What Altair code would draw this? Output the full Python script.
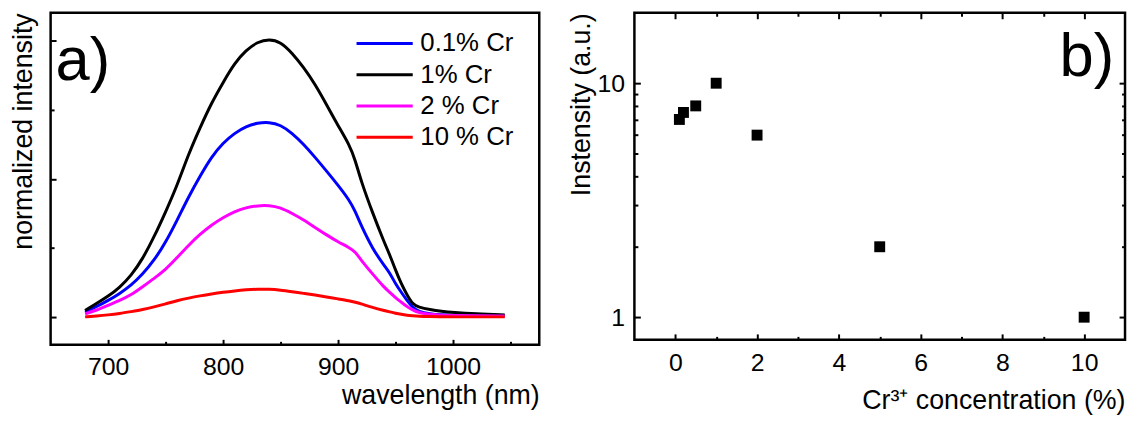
import altair as alt
import pandas as pd

# ---------------- data ----------------
wavelength = [680, 690, 700, 710, 720, 730, 740, 750, 760, 770, 780, 790, 800, 810, 820,
              830, 840, 850, 860, 870, 880, 890, 900, 910, 915, 920, 930, 940, 945, 950,
              955, 960, 965, 970, 980, 990, 1000, 1020, 1045]
cr_01 = [0.018, 0.038, 0.060, 0.085, 0.115, 0.155, 0.205, 0.270, 0.350, 0.435, 0.510, 0.580,
         0.630, 0.665, 0.690, 0.702, 0.705, 0.695, 0.665, 0.625, 0.578, 0.528, 0.477, 0.422,
         0.382, 0.332, 0.247, 0.187, 0.160, 0.120, 0.090, 0.060, 0.035, 0.020, 0.012, 0.008,
         0.006, 0.005, 0.004]
cr_1 = [0.024, 0.050, 0.075, 0.107, 0.150, 0.210, 0.290, 0.380, 0.475, 0.590, 0.685, 0.775,
        0.848, 0.918, 0.965, 0.995, 1.005, 0.995, 0.955, 0.903, 0.842, 0.768, 0.692, 0.622,
        0.567, 0.492, 0.377, 0.272, 0.225, 0.170, 0.120, 0.080, 0.046, 0.036, 0.027, 0.021,
        0.017, 0.012, 0.008]
cr_2 = [0.012, 0.025, 0.043, 0.060, 0.080, 0.110, 0.140, 0.172, 0.215, 0.260, 0.300, 0.333,
        0.360, 0.382, 0.396, 0.403, 0.404, 0.396, 0.375, 0.352, 0.324, 0.297, 0.272, 0.251,
        0.236, 0.206, 0.156, 0.108, 0.090, 0.070, 0.054, 0.038, 0.026, 0.016, 0.010, 0.007,
        0.006, 0.005, 0.004]
cr_10 = [0.001, 0.004, 0.008, 0.013, 0.020, 0.027, 0.037, 0.048, 0.060, 0.069, 0.077, 0.084,
         0.090, 0.095, 0.099, 0.101, 0.101, 0.098, 0.092, 0.086, 0.080, 0.073, 0.066, 0.059,
         0.054, 0.048, 0.035, 0.024, 0.019, 0.014, 0.010, 0.007, 0.005, 0.003, 0.002, 0.001,
         0.001, 0.001, 0.001]
series_names = ["0.1% Cr", "1% Cr", "2 % Cr", "10 % Cr"]
series_colors = ["#0000ff", "#000000", "#ff00ff", "#ff0000"]

concentration = [0.1, 0.2, 0.5, 1, 2, 5, 10]
intensity = [7.0, 7.5, 8.0, 10.0, 6.0, 2.0, 1.0]

x_ticks_a = [700, 800, 900, 1000]
x_minor_a = [750, 850, 950, 1050]
y_ticks_a = [0, 0.5, 1.0]
y_minor_a = [0.25, 0.75]
x_ticks_b = [0, 2, 4, 6, 8, 10]
x_minor_b = [1, 3, 5, 7, 9]
y_ticks_b = [1, 10]
y_minor_b = [2, 3, 4, 5, 6, 7, 8, 9]

# ---------------- tables ----------------
rows = []
for name, vals in zip(series_names, [cr_01, cr_1, cr_2, cr_10]):
    for w, v in zip(wavelength, vals):
        rows.append({"wavelength": w, "value": v, "series": name})
spec_df = pd.DataFrame(rows)
pts_df = pd.DataFrame({"conc": concentration, "inten": intensity})

FONT = "Liberation Sans"

xs_a = alt.Scale(domain=[650, 1075], nice=False, zero=False)
ys_a = alt.Scale(domain=[-0.1, 1.1], nice=False, zero=False)
xs_b = alt.Scale(domain=[-1, 11], nice=False, zero=False)
ys_b = alt.Scale(type="log", domain=[0.8, 20], nice=False)


def tick_axis(values, size, orient):
    return alt.Axis(values=values, orient=orient, labels=False, domain=False, grid=False,
                    ticks=True, tickSize=size, tickWidth=2, tickColor="black",
                    offset=-size, title=None)


def tick_layer(df, xf, yf, xs, ys, xaxis, yaxis):
    return alt.Chart(df).mark_point(opacity=0).encode(
        x=alt.X(xf, scale=xs, axis=xaxis),
        y=alt.Y(yf, scale=ys, axis=yaxis),
    )


# ---------------- panel a ----------------
lines = alt.Chart(spec_df).mark_line(strokeWidth=3, interpolate="basis").encode(
    x=alt.X("wavelength:Q", scale=xs_a,
            axis=alt.Axis(values=x_ticks_a, orient="bottom", format="d", ticks=False,
                          tickSize=0, domain=False, grid=False, labelPadding=10,
                          titlePadding=3, title="wavelength (nm)", titleAnchor="end")),
    y=alt.Y("value:Q", scale=ys_a,
            axis=alt.Axis(orient="left", labels=False, ticks=False, tickSize=0, domain=False,
                          grid=False, title="normalized intensity", titleAnchor="end",
                          titlePadding=13)),
    color=alt.Color("series:N", sort=series_names,
                    scale=alt.Scale(domain=series_names, range=series_colors),
                    legend=alt.Legend(orient="none", legendX=307, legendY=17, title=None,
                                      symbolType="stroke", symbolSize=3215,
                                      symbolStrokeWidth=3, clipHeight=28, rowPadding=3.5,
                                      labelFont=FONT, labelFontSize=26, labelColor="black",
                                      labelOffset=6, padding=0)),
    detail="series:N",
)

label_a = alt.Chart(pd.DataFrame({"t": ["a)"]})).mark_text(
    font=FONT, fontSize=62, align="left", baseline="alphabetic", color="black"
).encode(x=alt.value(5), y=alt.value(68), text="t:N")

panel_a = alt.layer(
    lines,
    tick_layer(spec_df, "wavelength:Q", "value:Q", xs_a, ys_a,
               tick_axis(x_ticks_a, 5.5, "bottom"), tick_axis(y_ticks_a, 5.5, "left")),
    tick_layer(spec_df, "wavelength:Q", "value:Q", xs_a, ys_a,
               tick_axis(x_minor_a, 3.5, "bottom"), tick_axis(y_minor_a, 3.5, "left")),
    label_a,
).resolve_axis(x="independent", y="independent").properties(width=493, height=335)

# ---------------- panel b ----------------
points = alt.Chart(pts_df).mark_square(size=121, color="black", opacity=1).encode(
    x=alt.X("conc:Q", scale=xs_b,
            axis=alt.Axis(values=x_ticks_b, orient="bottom", ticks=False, tickSize=0,
                          domain=False, grid=False, labelPadding=11, titlePadding=12,
                          title="Cr³⁺ concentration (%)", titleAnchor="end")),
    y=alt.Y("inten:Q", scale=ys_b,
            axis=alt.Axis(values=y_ticks_b, orient="left", format="d", ticks=False,
                          tickSize=0, domain=False, grid=False, labelPadding=10,
                          title="Instensity (a.u.)", titleAnchor="end", titlePadding=2)),
)

label_b = alt.Chart(pd.DataFrame({"t": ["b)"]})).mark_text(
    font=FONT, fontSize=62, align="left", baseline="alphabetic", color="black"
).encode(x=alt.value(429), y=alt.value(64), text="t:N")

panel_b = alt.layer(
    points,
    tick_layer(pts_df, "conc:Q", "inten:Q", xs_b, ys_b,
               tick_axis(x_ticks_b, 6, "bottom"), tick_axis(y_ticks_b, 6, "left")),
    tick_layer(pts_df, "conc:Q", "inten:Q", xs_b, ys_b,
               tick_axis(x_minor_b, 3.5, "bottom"), tick_axis(y_minor_b, 3.5, "left")),
    tick_layer(pts_df, "conc:Q", "inten:Q", xs_b, ys_b,
               tick_axis(x_ticks_b, 6, "top"), tick_axis(y_ticks_b, 6, "right")),
    tick_layer(pts_df, "conc:Q", "inten:Q", xs_b, ys_b,
               tick_axis(x_minor_b, 3.5, "top"), tick_axis(y_minor_b, 3.5, "right")),
    label_b,
).resolve_axis(x="independent", y="independent").properties(width=495, height=330)

chart = alt.hconcat(panel_a, panel_b, spacing=24).properties(
    padding={"left": 0, "top": 0, "right": 0, "bottom": 0},
    background="white",
).configure_view(
    stroke="black", strokeWidth=2.5
).configure_axis(
    labelFont=FONT, labelFontSize=25, labelColor="black", labelOverlap=False,
    titleFont=FONT, titleFontSize=27, titleColor="black", titleFontWeight="normal",
).configure_legend(
    labelFont=FONT, labelFontSize=26,
)

chart.save("out.html", embed_options={"renderer": "svg", "actions": False})
